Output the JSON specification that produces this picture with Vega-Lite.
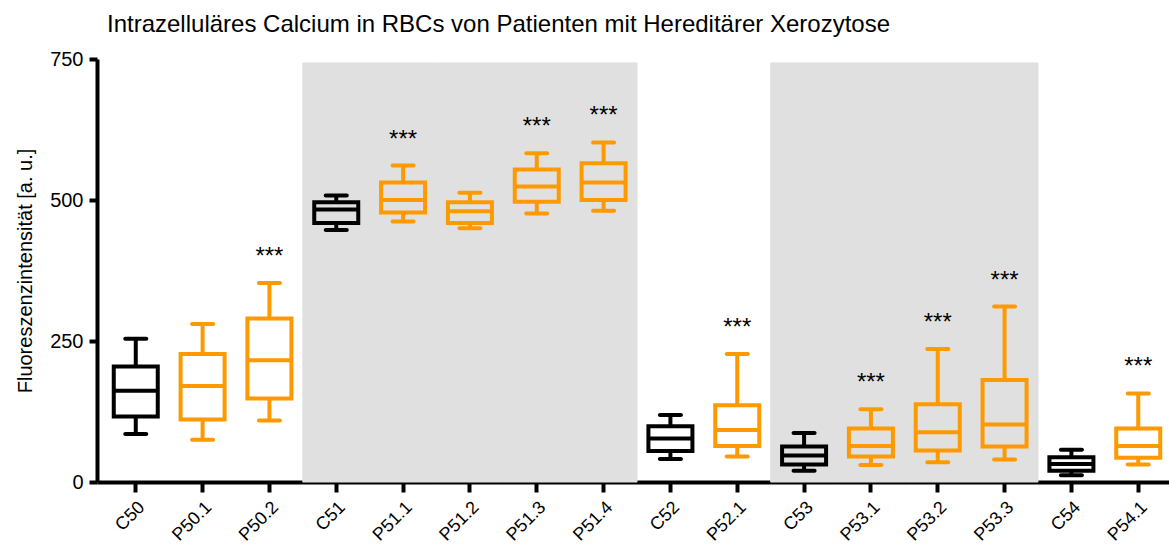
{
  "$schema": "https://vega.github.io/schema/vega-lite/v6.json",
  "autosize": "none",
  "width": 1072,
  "height": 423,
  "padding": {"left": 97, "top": 59, "right": 0, "bottom": 65},
  "background": "white",
  "title": {
    "text": "Intrazelluläres Calcium in RBCs von Patienten mit Hereditärer Xerozytose",
    "anchor": "start",
    "frame": "group",
    "dx": 10,
    "dy": 24,
    "offset": 17,
    "baseline": "alphabetic",
    "font": "Liberation Sans",
    "fontSize": 24,
    "fontWeight": "normal",
    "color": "black"
  },
  "config": {
    "view": {"stroke": null},
    "axis": {
      "domainColor": "black",
      "domainWidth": 4,
      "tickColor": "black",
      "tickWidth": 4,
      "grid": false,
      "labelFont": "Liberation Sans",
      "labelColor": "black",
      "titleFont": "Liberation Sans",
      "titleColor": "black",
      "titleFontWeight": "normal"
    }
  },
  "datasets": {
    "boxes": [
      {"cat": "C50", "grp": "C", "min": 85, "q1": 116, "med": 162, "q3": 205, "max": 254, "sig": ""},
      {"cat": "P50.1", "grp": "P", "min": 75, "q1": 111, "med": 170, "q3": 227, "max": 280, "sig": ""},
      {"cat": "P50.2", "grp": "P", "min": 109, "q1": 148, "med": 216, "q3": 290, "max": 353, "sig": "***"},
      {"cat": "C51", "grp": "C", "min": 447, "q1": 459, "med": 483, "q3": 496, "max": 508, "sig": ""},
      {"cat": "P51.1", "grp": "P", "min": 462, "q1": 478, "med": 500, "q3": 531, "max": 561, "sig": "***"},
      {"cat": "P51.2", "grp": "P", "min": 450, "q1": 459, "med": 480, "q3": 496, "max": 513, "sig": ""},
      {"cat": "P51.3", "grp": "P", "min": 476, "q1": 497, "med": 524, "q3": 554, "max": 583, "sig": "***"},
      {"cat": "P51.4", "grp": "P", "min": 481, "q1": 500, "med": 531, "q3": 565, "max": 602, "sig": "***"},
      {"cat": "C52", "grp": "C", "min": 41, "q1": 55, "med": 77, "q3": 99, "max": 119, "sig": ""},
      {"cat": "P52.1", "grp": "P", "min": 45, "q1": 64, "med": 92, "q3": 136, "max": 227, "sig": "***"},
      {"cat": "C53", "grp": "C", "min": 20, "q1": 31, "med": 47, "q3": 63, "max": 87, "sig": ""},
      {"cat": "P53.1", "grp": "P", "min": 30, "q1": 45, "med": 64, "q3": 95, "max": 129, "sig": "***"},
      {"cat": "P53.2", "grp": "P", "min": 35, "q1": 56, "med": 88, "q3": 138, "max": 236, "sig": "***"},
      {"cat": "P53.3", "grp": "P", "min": 40, "q1": 63, "med": 102, "q3": 181, "max": 311, "sig": "***"},
      {"cat": "C54", "grp": "C", "min": 12, "q1": 20, "med": 32, "q3": 44, "max": 57, "sig": ""},
      {"cat": "P54.1", "grp": "P", "min": 31, "q1": 43, "med": 64, "q3": 95, "max": 157, "sig": "***"}
    ],
    "shade": [
      {"cat": "C51"}, {"cat": "P51.1"}, {"cat": "P51.2"}, {"cat": "P51.3"}, {"cat": "P51.4"},
      {"cat": "C53"}, {"cat": "P53.1"}, {"cat": "P53.2"}, {"cat": "P53.3"}
    ]
  },
  "encoding": {
    "x": {
      "field": "cat",
      "type": "nominal",
      "sort": ["C50","P50.1","P50.2","C51","P51.1","P51.2","P51.3","P51.4","C52","P52.1","C53","P53.1","P53.2","P53.3","C54","P54.1"],
      "scale": {"domain": ["C50","P50.1","P50.2","C51","P51.1","P51.2","P51.3","P51.4","C52","P52.1","C53","P53.1","P53.2","P53.3","C54","P54.1"], "range": [0, 1080], "paddingInner": 0, "paddingOuter": 0.08},
      "axis": {"title": null, "labelAngle": -45, "labelFontSize": 18, "tickSize": 10, "labelPadding": 6}
    }
  },
  "layer": [
    {
      "data": {"name": "shade"},
      "mark": {"type": "bar", "color": "#E0E0E0", "stroke": "#E0E0E0", "strokeWidth": 1},
      "encoding": {
        "y": {"datum": 743, "type": "quantitative", "scale": {"domain": [0, 750], "nice": false, "zero": true},
              "axis": {"title": "Fluoreszenzintensität [a. u.]", "values": [0, 250, 500, 750], "labelFontSize": 20, "titleFontSize": 20, "tickSize": 8, "labelPadding": 6, "titlePadding": 14}},
        "y2": {"datum": 0}
      }
    },
    {
      "data": {"name": "boxes"},
      "layer": [
        {
          "mark": {"type": "rule", "strokeWidth": 4},
          "encoding": {"y": {"field": "q3", "type": "quantitative"}, "y2": {"field": "max"},
            "color": {"field": "grp", "type": "nominal", "scale": {"domain": ["C", "P"], "range": ["#000000", "#FF9900"]}, "legend": null}}
        },
        {
          "mark": {"type": "rule", "strokeWidth": 4},
          "encoding": {"y": {"field": "min", "type": "quantitative"}, "y2": {"field": "q1"},
            "color": {"field": "grp", "type": "nominal", "legend": null}}
        },
        {
          "mark": {"type": "bar", "filled": false, "size": 44, "strokeWidth": 4, "opacity": 1},
          "encoding": {"y": {"field": "q1", "type": "quantitative"}, "y2": {"field": "q3"},
            "color": {"field": "grp", "type": "nominal", "legend": null}}
        },
        {
          "mark": {"type": "tick", "size": 46, "thickness": 4, "opacity": 1},
          "encoding": {"y": {"field": "med", "type": "quantitative"},
            "color": {"field": "grp", "type": "nominal", "legend": null}}
        },
        {
          "mark": {"type": "tick", "size": 25, "thickness": 4, "cornerRadius": 2, "opacity": 1},
          "encoding": {"y": {"field": "max", "type": "quantitative"},
            "color": {"field": "grp", "type": "nominal", "legend": null}}
        },
        {
          "mark": {"type": "tick", "size": 25, "thickness": 4, "cornerRadius": 2, "opacity": 1},
          "encoding": {"y": {"field": "min", "type": "quantitative"},
            "color": {"field": "grp", "type": "nominal", "legend": null}}
        },
        {
          "mark": {"type": "text", "font": "Liberation Sans", "fontSize": 24, "color": "black", "baseline": "alphabetic", "dy": -19},
          "encoding": {"y": {"field": "max", "type": "quantitative"}, "text": {"field": "sig"}}
        }
      ]
    }
  ]
}
